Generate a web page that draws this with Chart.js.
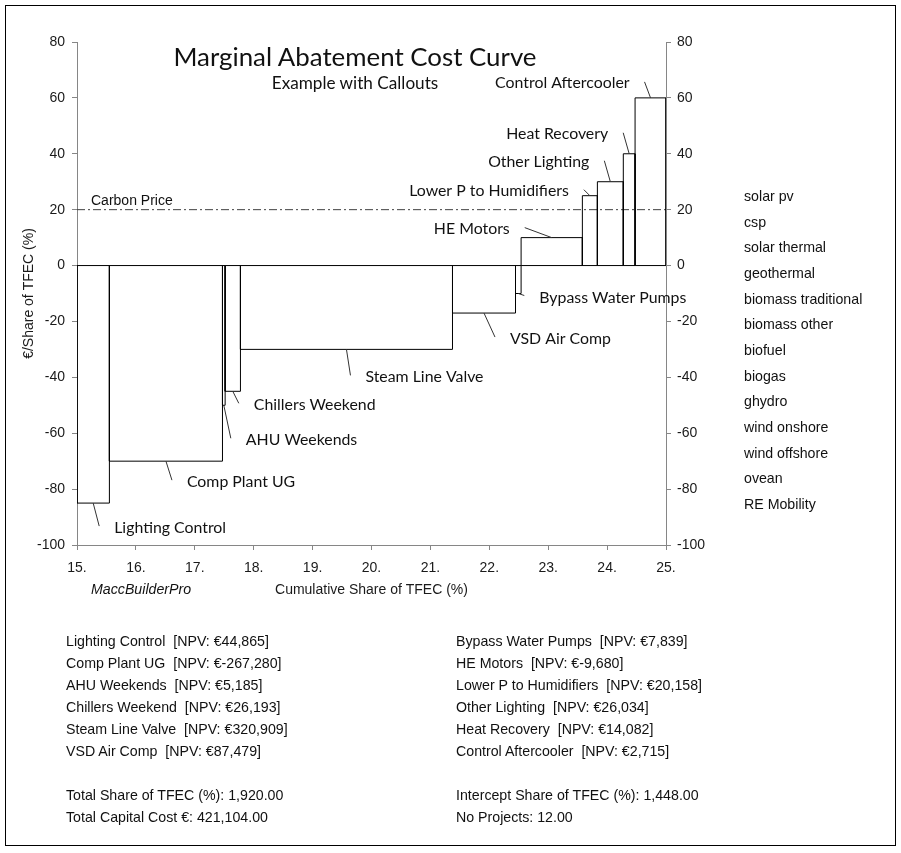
<!DOCTYPE html>
<html>
<head>
<meta charset="utf-8">
<script src="https://cdn.jsdelivr.net/npm/chart.js@4.4.1/dist/chart.umd.min.js"></script>
<style>
  html, body { margin:0; padding:0; background:#fff; }
  #wrap { position:relative; width:901px; height:853px; overflow:hidden; background:#fff; }
  #frame { position:absolute; left:5px; top:5px; width:891px; height:841px; border:1px solid #000; box-sizing:border-box; }
  #c { position:absolute; left:0; top:0; }
  .txt { position:absolute; white-space:pre; color:#111; font-family:"Liberation Sans", Arial, sans-serif; font-size:14.2px; line-height:22px; }
  #title, #subtitle { position:absolute; white-space:pre; color:#111; font-family:Lato, "Open Sans", sans-serif; transform:translate(-50%,-50%); line-height:1; }
  #techs { position:absolute; left:744px; top:184px; line-height:25.67px; font-size:14.2px; font-family:"Liberation Sans", Arial, sans-serif; color:#111; white-space:pre; }
  #maker { position:absolute; left:91px; top:581px; font-style:italic; font-size:14.2px; font-family:"Liberation Sans", Arial, sans-serif; color:#111; }
</style>
</head>
<body>
<div id="wrap">
  <div id="frame"></div>
  <canvas id="c" width="901" height="853"></canvas>
  <div id="title"></div>
  <div id="subtitle"></div>
  <div id="techs"></div>
  <div id="maker">MaccBuilderPro</div>
  <div id="notesL" class="txt" style="left:66px;top:630px;"></div>
  <div id="notesR" class="txt" style="left:456px;top:630px;"></div>
</div>
<script>
// ---------------- data ----------------
const chartTitle = 'Marginal Abatement Cost Curve';
const chartSubtitle = 'Example with Callouts';
const projects = ['Lighting Control','Comp Plant UG','AHU Weekends','Chillers Weekend','Steam Line Valve','VSD Air Comp',
                  'Bypass Water Pumps','HE Motors','Lower P to Humidifiers','Other Lighting','Heat Recovery','Control Aftercooler'];
const shares = [0.55, 1.92, 0.045, 0.26, 3.60, 1.07, 0.095, 1.04, 0.255, 0.44, 0.20, 0.525];   // bar widths (share of TFEC %)
const costs  = [-85, -70, -50, -45, -30, -17, -10, 10, 25, 30, 40, 60];                       // €/share of TFEC
const npv    = ['44,865','-267,280','5,185','26,193','320,909','87,479','7,839','-9,680','20,158','26,034','14,082','2,715'];
const startShare = 15;
const carbonPrice = 20;
const xMin = 15, xMax = 25, xStep = 1;
const yMin = -100, yMax = 80, yStep = 20;
const techList = ['solar pv','csp','solar thermal','geothermal','biomass traditional','biomass other','biofuel','biogas',
                  'ghydro','wind onshore','wind offshore','ovean','RE Mobility'];
const totalsLeft  = ['Total Share of TFEC (%): 1,920.00','Total Capital Cost €: 421,104.00'];
const totalsRight = ['Intercept Share of TFEC (%): 1,448.00','No Projects: 12.00'];

// ---------------- layout / style (not data) ----------------
const calloutOffsets = [[6,23],[6,19],[7,33],[6,12],[4,26],[11,24],[6,2],[-27,-10],[-6,-6],[-6,-21],[-6,-21],[-6,-16]];
const calFamily = 'Lato, "Open Sans", sans-serif';
function fitSize(text, family, target){
  const c = document.createElement('canvas').getContext('2d');
  c.font = '100px ' + family;
  return 100 * target / c.measureText(text).width;
}
const calloutPx = fitSize('Lighting Control', calFamily, 112);

const tEl = document.getElementById('title');
tEl.textContent = chartTitle;
tEl.style.fontSize = fitSize(chartTitle, calFamily, 364) + 'px';
tEl.style.left = '355px'; tEl.style.top = '57px';
const sEl = document.getElementById('subtitle');
sEl.textContent = chartSubtitle;
sEl.style.fontSize = fitSize(chartSubtitle, calFamily, 167) + 'px';
sEl.style.left = '355px'; sEl.style.top = '83px';

document.getElementById('techs').textContent = techList.join('\n');
document.getElementById('notesL').textContent =
  projects.slice(0,6).map((p,i)=>`${p}  [NPV: €${npv[i]}]`).join('\n') + '\n\n' + totalsLeft.join('\n');
document.getElementById('notesR').textContent =
  projects.slice(6).map((p,i)=>`${p}  [NPV: €${npv[i+6]}]`).join('\n') + '\n\n' + totalsRight.join('\n');

// ---------------- datasets ----------------
let cum = startShare;
const bounds = [];
const barSets = projects.map((name, i) => {
  const a = cum, b = cum + shares[i];
  cum = b;
  bounds.push([a, b]);
  return {
    label: name,
    data: [{x:a,y:0},{x:a,y:costs[i]},{x:b,y:costs[i]},{x:b,y:0},{x:a,y:0}],
    borderColor: '#000', borderWidth: 1, pointRadius: 0, fill: false, tension: 0
  };
});
const carbonSet = {
  label: 'Carbon Price',
  data: [{x:xMin,y:carbonPrice},{x:xMax,y:carbonPrice}],
  borderColor: '#404040', borderWidth: 1, borderDash: [8,3,2,3], pointRadius: 0, fill: false
};

const calloutPlugin = {
  id: 'callouts',
  afterDatasetsDraw(chart) {
    const { ctx, scales: { x, y } } = chart;
    ctx.save();
    ctx.strokeStyle = '#333';
    ctx.lineWidth = 1;
    ctx.fillStyle = '#111';
    ctx.font = calloutPx + 'px ' + calFamily;
    ctx.textBaseline = 'middle';
    projects.forEach((name, i) => {
      const [a, b] = bounds[i];
      const cx = x.getPixelForValue((a + b) / 2);
      const cy = y.getPixelForValue(costs[i]);
      const [dx, dy] = calloutOffsets[i];
      const ex = cx + dx, ey = cy + dy;
      ctx.beginPath();
      ctx.moveTo(cx, cy);
      ctx.lineTo(ex, ey);
      ctx.stroke();
      if (costs[i] < 0) { ctx.textAlign = 'left'; ctx.fillText(name, ex + 15, ey + 2); }
      else { ctx.textAlign = 'right'; ctx.fillText(name, ex - 15, ey + 1.5); }
    });
    ctx.font = '14px "Liberation Sans", Arial, sans-serif';
    ctx.textAlign = 'left';
    ctx.fillText('Carbon Price', x.getPixelForValue(xMin) + 14, y.getPixelForValue(carbonPrice) - 8.5);
    ctx.restore();
  }
};

Chart.defaults.font.family = '"Liberation Sans", Arial, sans-serif';
Chart.defaults.font.size = 14;
Chart.defaults.color = '#1a1a1a';

const axisGrey = '#868686';
new Chart(document.getElementById('c'), {
  type: 'line',
  data: { datasets: [...barSets, carbonSet] },
  options: {
    responsive: false,
    animation: false,
    layout: { padding: { top: 42, left: 0, right: 0, bottom: 0 } },
    plugins: { legend: { display: false }, tooltip: { enabled: false }, title: { display: false } },
    scales: {
      x: {
        type: 'linear', position: 'bottom', min: xMin, max: xMax,
        ticks: { stepSize: xStep, callback: v => v + '.', padding: 10, color: '#1a1a1a', maxRotation: 0 },
        grid: { drawOnChartArea: false, tickLength: 5, color: axisGrey },
        border: { color: axisGrey },
        title: { display: true, text: 'Cumulative Share of TFEC (%)', color: '#1a1a1a', padding: { bottom: 254, top: 0 } },
        afterFit: s => { s.height = 308; }
      },
      y: {
        type: 'linear', position: 'left', min: yMin, max: yMax,
        ticks: { stepSize: yStep, padding: 7, color: '#1a1a1a' },
        grid: { drawOnChartArea: false, tickLength: 5, color: axisGrey },
        border: { color: axisGrey },
        title: { display: true, text: '€/Share of TFEC (%)', color: '#1a1a1a', padding: { top: 21, bottom: 0 } },
        afterFit: s => { s.width = 77; }
      },
      y2: {
        type: 'linear', position: 'right', min: yMin, max: yMax,
        ticks: { stepSize: yStep, padding: 6, color: '#1a1a1a' },
        grid: { drawOnChartArea: false, tickLength: 5, color: axisGrey },
        border: { color: axisGrey },
        afterFit: s => { s.width = 235; }
      }
    }
  },
  plugins: [calloutPlugin]
});
</script>
</body>
</html>
